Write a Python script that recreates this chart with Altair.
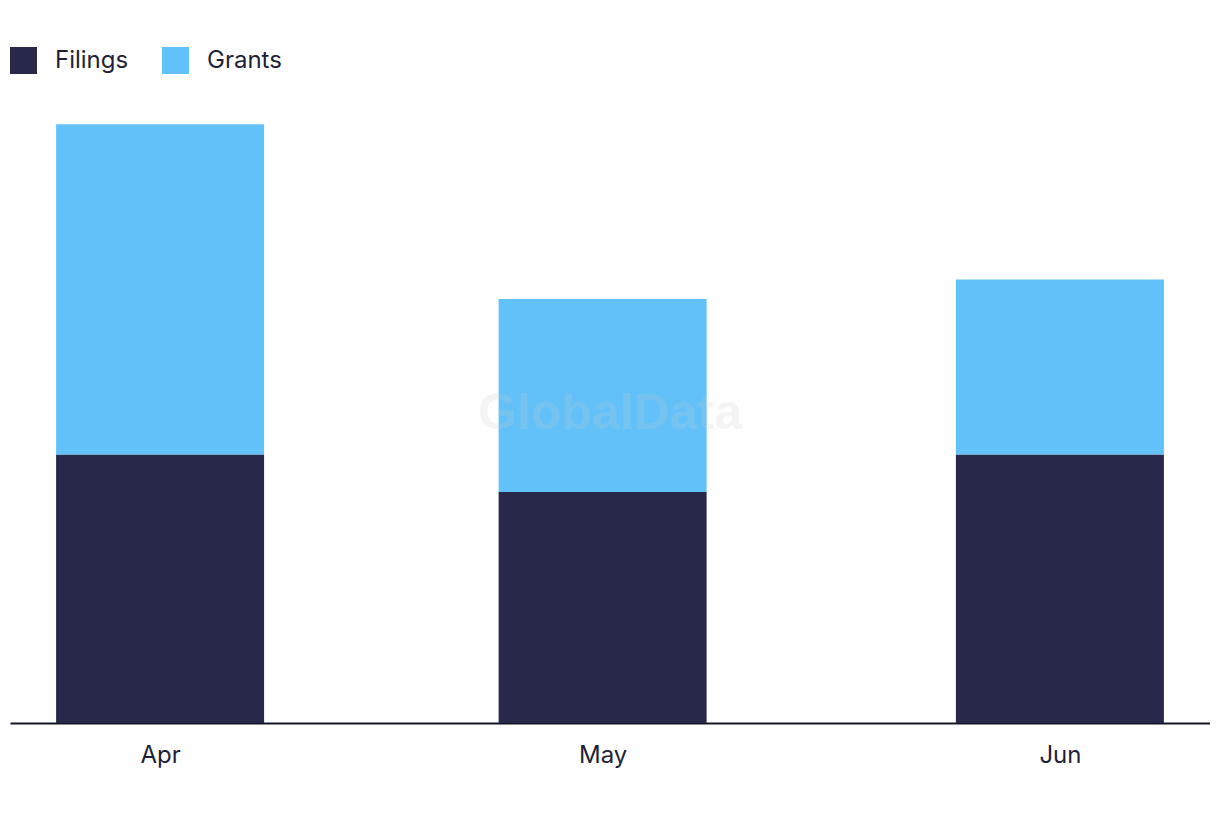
import altair as alt
import pandas as pd

months = ["2023-04-01T00:00:00Z", "2023-05-01T00:00:00Z", "2023-06-01T00:00:00Z"]
filings = [14, 12.04, 14]
grants = [17.2, 10.06, 9.12]
series = ["Filings", "Grants"]
colors = ["#28284b", "#62c1f8"]

rows = []
for m, f, g in zip(months, filings, grants):
    rows.append({"date": m, "series": "Filings", "value": f, "ord": 0})
    rows.append({"date": m, "series": "Grants", "value": g, "ord": 1})
df = pd.DataFrame(rows)

FONT = "Inter"

bars = alt.Chart(df).mark_bar(size=208).encode(
    x=alt.X(
        "date:T",
        title=None,
        scale=alt.Scale(
            type="utc",
            padding=0,
            domain=[
                alt.DateTime(year=2023, month=3, date=21, hours=19, minutes=48, utc=True),
                alt.DateTime(year=2023, month=6, date=11, hours=4, minutes=12, utc=True),
            ],
        ),
        axis=alt.Axis(
            values=[
                alt.DateTime(year=2023, month=4, date=1, utc=True),
                alt.DateTime(year=2023, month=5, date=1, utc=True),
                alt.DateTime(year=2023, month=6, date=1, utc=True),
            ],
            labelExpr="utcFormat(datum.value, '%b')",
            grid=False,
            ticks=False,
            domainColor="#15152a",
            domainWidth=2,
            labelColor="#1f1f38",
            labelFont=FONT,
            labelFontSize=24,
            labelPadding=20,
        ),
    ),
    y=alt.Y(
        "value:Q",
        stack="zero",
        scale=alt.Scale(domain=[0, 32], nice=False),
        axis=None,
    ),
    color=alt.Color(
        "series:N",
        scale=alt.Scale(domain=series, range=colors),
        legend=alt.Legend(
            title=None,
            orient="none",
            legendX=0,
            legendY=-62,
            direction="horizontal",
            symbolType="square",
            symbolSize=729,
            symbolStrokeWidth=0,
            symbolOpacity=1,
            labelFont=FONT,
            labelFontSize=24,
            labelColor="#1f1f38",
            labelOffset=18,
            columnPadding=33,
        ),
    ),
    order=alt.Order("ord:Q", sort="ascending"),
)

watermark = alt.Chart(pd.DataFrame({"t": ["GlobalData"]})).mark_text(
    font="Liberation Sans",
    fontSize=50,
    fontWeight="bold",
    color="#cccccc",
    opacity=0.2,
    align="center",
    baseline="middle",
).encode(x=alt.value(600), y=alt.value(305), text="t:N")

chart = (
    alt.layer(bars, watermark)
    .properties(
        width=1200,
        height=614,
        background="white",
        autosize=alt.AutoSizeParams(type="none"),
        padding={"left": 2, "top": 101, "right": 0, "bottom": 90},
    )
    .configure_view(stroke=None, strokeWidth=0)
)

chart.save("out.html", embed_options={"renderer": "svg", "actions": False})
